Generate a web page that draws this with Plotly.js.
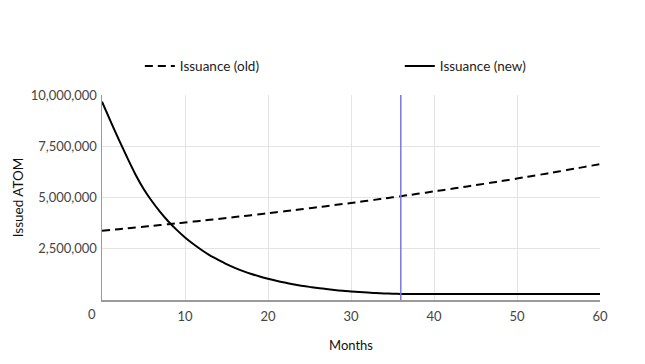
<!DOCTYPE html>
<html>
<head>
<meta charset="utf-8">
<script src="https://cdn.plot.ly/plotly-3.0.1.min.js"></script>
<style>html,body{margin:0;padding:0;background:#fff;}#chart{width:645px;height:364px;}</style>
</head>
<body>
<div id="chart"></div>
<script>
const months = [0,1,2,3,4,5,6,7,8,9,10,11,12,13,14,15,16,17,18,19,20,21,22,23,24,25,26,27,28,29,30,31,32,33,34,35,36,37,38,39,40,41,42,43,44,45,46,47,48,49,50,51,52,53,54,55,56,57,58,59,60];

const issuanceOld = [3380000,3418000,3457000,3496000,3535000,3575000,3615000,3656000,3697000,3739000,
  3781000,3824000,3867000,3911000,3955000,4000000,4045000,4091000,4137000,4184000,
  4231000,4279000,4327000,4376000,4425000,4475000,4526000,4577000,4629000,4681000,
  4734000,4787000,4841000,4896000,4951000,5007000,5064000,5121000,5179000,5237000,
  5296000,5356000,5416000,5477000,5539000,5602000,5665000,5729000,5794000,5859000,
  5925000,5992000,6060000,6128000,6197000,6267000,6338000,6410000,6482000,6555000,6629000];

const issuanceNew = [9670000,8750000,7850000,6980000,6150000,5430000,4830000,4300000,3830000,3420000,
  3050000,2730000,2440000,2180000,1960000,1750000,1570000,1410000,1270000,1150000,
  1040000,940000,850000,770000,700000,640000,580000,540000,490000,450000,
  420000,390000,360000,340000,320000,305000,295000,295000,295000,295000,
  295000,295000,295000,295000,295000,295000,295000,295000,295000,295000,
  295000,295000,295000,295000,295000,295000,295000,295000,295000,295000,295000];

const markerMonth = 36;
const xTicks = [10,20,30,40,50,60];
const yTicks = [2500000,5000000,7500000,10000000];
const yTickText = ['2,500,000','5,000,000','7,500,000','10,000,000'];

const font = 'Lato, "Open Sans", sans-serif';

const data = [
  {x: months, y: issuanceOld, type: 'scatter', mode: 'lines', name: 'Issuance (old)', legend: 'legend',
   line: {color: '#000000', width: 2, dash: '8px,5px', shape: 'spline', smoothing: 0.8}},
  {x: months, y: issuanceNew, type: 'scatter', mode: 'lines', name: 'Issuance (new)', legend: 'legend2',
   line: {color: '#000000', width: 2, shape: 'spline', smoothing: 0.8}}
];

const legendFont = {family: font, size: 13.5, color: '#222'};

const layout = {
  width: 645, height: 364,
  margin: {l: 102, r: 45, t: 95, b: 64},
  paper_bgcolor: '#ffffff', plot_bgcolor: '#ffffff',
  font: {family: font, size: 13, color: '#444'},
  showlegend: true,
  legend: {orientation: 'h', x: 0.076, xanchor: 'left', y: 1.14, yanchor: 'middle',
    itemwidth: 30, font: legendFont, bgcolor: 'rgba(0,0,0,0)'},
  legend2: {orientation: 'h', x: 0.598, xanchor: 'left', y: 1.14, yanchor: 'middle',
    itemwidth: 30, font: legendFont, bgcolor: 'rgba(0,0,0,0)'},
  xaxis: {range: [0, 60], tickvals: xTicks, ticks: 'outside', ticklen: 4,
    tickcolor: 'rgba(0,0,0,0)', showgrid: true, gridcolor: '#e3e3e3', gridwidth: 1,
    zeroline: false, showline: true, linecolor: '#9a9a9a', linewidth: 1.5, mirror: false,
    tickfont: {family: font, size: 13, color: '#444'},
    title: {text: 'Months', standoff: 18, font: {family: font, size: 13, color: '#111'}}},
  yaxis: {range: [0, 10000000], tickvals: yTicks, ticktext: yTickText, ticks: 'outside', ticklen: 1,
    tickcolor: 'rgba(0,0,0,0)', showgrid: true, gridcolor: '#e3e3e3', gridwidth: 1,
    zeroline: false, showline: true, linecolor: '#9a9a9a', linewidth: 1.5,
    tickfont: {family: font, size: 13, color: '#444'},
    title: {text: 'Issued ATOM', standoff: 4, font: {family: font, size: 13.5, color: '#111'}}},
  shapes: [
    {type: 'line', xref: 'x', yref: 'paper', x0: markerMonth, x1: markerMonth, y0: 0, y1: 1,
     line: {color: '#7a78e0', width: 1.5}}
  ],
  annotations: [
    {text: '0', xref: 'paper', yref: 'paper', x: -0.02, y: 0, yshift: -14, showarrow: false,
     xanchor: 'center', yanchor: 'middle', font: {family: font, size: 13, color: '#444'}}
  ]
};

Plotly.newPlot('chart', data, layout, {displayModeBar: false, staticPlot: true});
</script>
</body>
</html>
